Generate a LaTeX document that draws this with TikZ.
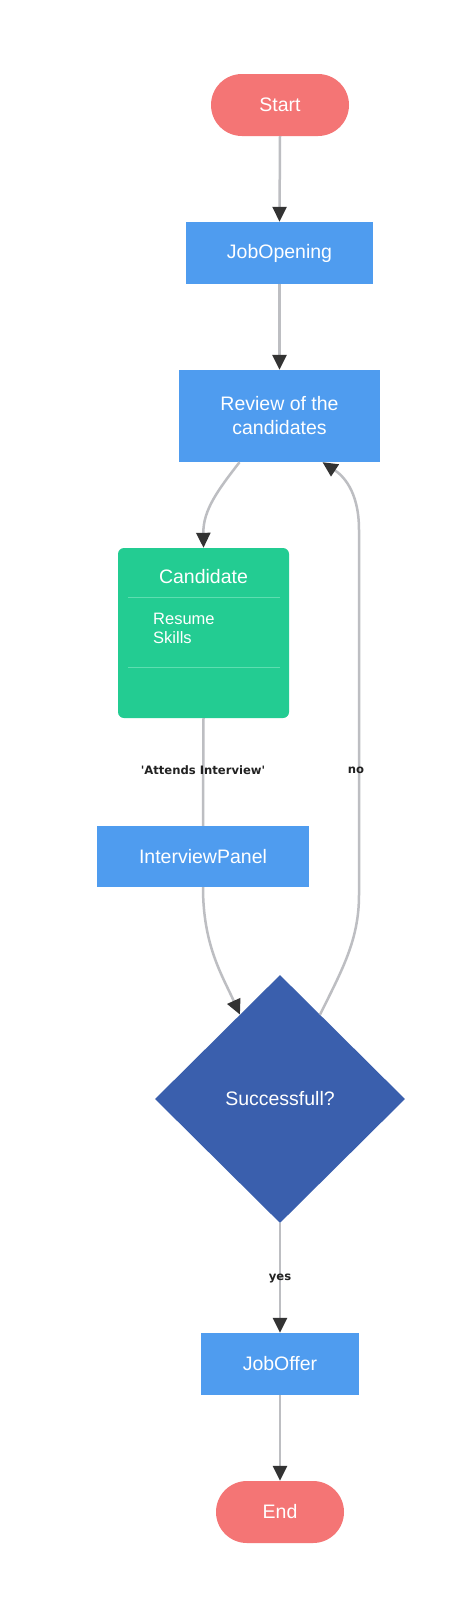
\documentclass[tikz,border=0pt]{standalone}
\usepackage{fontspec}
\setmainfont{Liberation Sans}
\newfontfamily\lblfont{DejaVu Sans}
\usetikzlibrary{shapes.geometric,arrows.meta,calc}
\definecolor{pill}{HTML}{F47575}
\definecolor{procblue}{HTML}{4F9CEF}
\definecolor{candgreen}{HTML}{23CC92}
\definecolor{divgreen}{HTML}{5EDDB0}
\definecolor{diablue}{HTML}{3A5FAD}
\definecolor{linegray}{HTML}{BDBEC2}
\definecolor{headgray}{HTML}{333333}
\definecolor{lbltext}{HTML}{222222}
\begin{document}
\begin{tikzpicture}[x=1pt,y=-1pt,
  mainfont/.style={font=\fontsize{19.5}{24}\selectfont},
  pillnode/.style={fill=pill, rounded corners=31pt, minimum height=62pt, inner sep=0pt, text=white, mainfont},
  procnode/.style={fill=procblue, inner sep=0pt, text=white, align=center, mainfont},
  conn/.style={draw=linegray, line width=2.5pt, -{Triangle[length=15pt,width=14pt,color=headgray]}},
  plainconn/.style={draw=linegray, line width=2.5pt},
  divider/.style={draw=divgreen, line width=1pt},
  lbl/.style={font=\lblfont\bfseries\fontsize{11.6}{13}\selectfont, text=lbltext, inner sep=0pt}
]
\fill[white] (0,0) rectangle (474,1611);
\useasboundingbox (0,0) rectangle (474,1611);

% nodes
\node[pillnode, minimum width=138pt] (start) at (280,105) {Start};
\node[procnode, minimum width=187pt, minimum height=62pt] (jobopen) at (279.5,253) {JobOpening};
\node[procnode, minimum width=201pt, minimum height=92pt] (review) at (279.5,416) {Review of the\\candidates};
\node[fill=candgreen, rounded corners=6pt, minimum width=171pt, minimum height=170pt, inner sep=0pt] (cand) at (203.5,633) {};
\node[text=white, mainfont, inner sep=0pt] (candtitle) at (203.5,577) {Candidate};
\draw[divider] ($(cand.north west)+(10,50)$) -- ($(cand.north east)+(-9,50)$);
\node[text=white, anchor=west, align=left, inner sep=0pt, font=\fontsize{16.5}{19}\selectfont] (candmembers) at (153,628.5) {Resume\\Skills};
\draw[divider] ($(cand.north west)+(10,120)$) -- ($(cand.north east)+(-9,120)$);
\node[procnode, minimum width=212pt, minimum height=61pt] (panel) at (203,856.5) {InterviewPanel};
\node[diamond, fill=diablue, minimum width=250pt, minimum height=248pt, inner sep=0pt, text=white, mainfont] (dia) at (280,1099) {Successfull?};
\node[procnode, minimum width=158pt, minimum height=62pt] (offer) at (280,1364) {JobOffer};
\node[pillnode, minimum width=128pt] (end) at (280,1512) {End};

% coordinates on diamond edges
\coordinate (diaIn) at ($(dia.north)!0.32!(dia.west)$);
\coordinate (diaOut) at ($(dia.north)!0.32!(dia.east)$);

% connectors
\draw[conn] (start.south) -- (jobopen.north);
\draw[conn] (jobopen.south) -- (review.north);
\draw[conn] ([xshift=-40pt]review.south) .. controls (218,490) and (203,510) .. (cand.north);
\draw[plainconn] (cand.south) -- (panel.north);
\draw[conn] (panel.south) .. controls (203,945) and (222,975) .. (diaIn);
\draw[conn] (diaOut) .. controls (342,970) and (359,940) .. (359,895) -- (359,530) .. controls (359,490) and (342,475) .. ([xshift=43pt]review.south);
\draw[conn] (dia.south) -- (offer.north);
\draw[conn] (offer.south) -- (end.north);

% labels
\node[lbl] (lblattend) at (203,770) {\textquotesingle Attends Interview\textquotesingle};
\node[lbl] (lblno) at (356,770) {no};
\node[lbl] (lblyes) at (280,1278) {yes};
\end{tikzpicture}
\end{document}
